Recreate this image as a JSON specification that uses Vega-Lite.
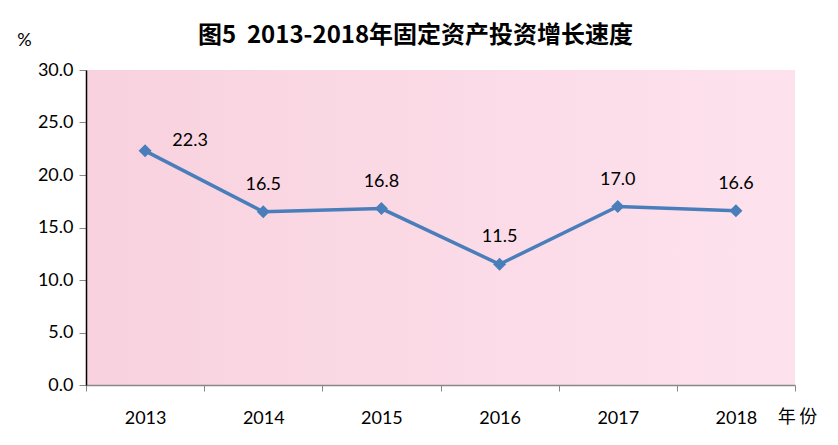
{
  "$schema": "https://vega.github.io/schema/vega-lite/v6.json",
  "width": 709,
  "height": 315,
  "autosize": {"type": "none"},
  "padding": {"left": 86, "top": 70, "right": 43, "bottom": 60},
  "background": "#ffffff",
  "title": {
    "text": "图5\u00a0\u00a02013-2018年固定资产投资增长速度",
    "font": "Noto Sans CJK SC",
    "fontWeight": "bold",
    "fontSize": 24,
    "color": "#000000",
    "anchor": "middle",
    "dx": -25,
    "offset": -17
  },
  "config": {
    "view": {
      "stroke": null,
      "fill": {
        "gradient": "linear",
        "x1": 0, "y1": 0, "x2": 1, "y2": 0,
        "stops": [
          {"offset": 0, "color": "#f8d2de"},
          {"offset": 1, "color": "#fde2ee"}
        ]
      }
    },
    "font": "Lato"
  },
  "data": {
    "values": [
      {"year": "2013", "growth": 22.3},
      {"year": "2014", "growth": 16.5},
      {"year": "2015", "growth": 16.8},
      {"year": "2016", "growth": 11.5},
      {"year": "2017", "growth": 17.0},
      {"year": "2018", "growth": 16.6}
    ]
  },
  "encoding": {
    "x": {
      "field": "year",
      "type": "ordinal",
      "scale": {"paddingInner": 0, "paddingOuter": 0},
      "axis": {
        "title": "年\u2009份",
        "titleFont": "Noto Sans CJK SC",
        "titleFontWeight": "normal",
        "titleFontSize": 18,
        "titleColor": "#000000",
        "titleAngle": 0,
        "titleX": 711,
        "titleY": 32,
        "titleAlign": "center",
        "titleBaseline": "middle",
        "labelAngle": 0,
        "labelFont": "Lato",
        "labelFontSize": 18,
        "labelColor": "#000000",
        "labelPadding": 18,
        "tickBand": "extent",
        "tickColor": "#888888",
        "tickSize": 6,
        "domainColor": "#888888",
        "domainWidth": 1.5,
        "grid": false
      }
    },
    "y": {
      "field": "growth",
      "type": "quantitative",
      "scale": {"domain": [0, 30]},
      "axis": {
        "title": "%",
        "titleFont": "Lato",
        "titleFontWeight": "normal",
        "titleFontSize": 18,
        "titleColor": "#000000",
        "titleAngle": 0,
        "titleX": -62,
        "titleY": -30,
        "titleAlign": "center",
        "titleBaseline": "middle",
        "values": [0, 5, 10, 15, 20, 25, 30],
        "format": ".1f",
        "labelFont": "Lato",
        "labelFontSize": 18,
        "labelColor": "#000000",
        "labelPadding": 6,
        "tickColor": "#888888",
        "tickSize": 7,
        "domainColor": "#000000",
        "domainWidth": 1.5,
        "grid": false
      }
    }
  },
  "layer": [
    {
      "mark": {"type": "line", "color": "#4a7ebb", "strokeWidth": 3.5}
    },
    {
      "mark": {"type": "point", "shape": "diamond", "filled": true, "size": 170, "color": "#4a7ebb", "opacity": 1}
    },
    {
      "transform": [{"filter": "datum.year == '2013'"}],
      "mark": {"type": "text", "dx": 45, "dy": -10, "fontSize": 18, "font": "Lato", "color": "#000000"},
      "encoding": {"text": {"field": "growth", "type": "quantitative", "format": ".1f"}}
    },
    {
      "transform": [{"filter": "datum.year != '2013'"}],
      "mark": {"type": "text", "dy": -27, "fontSize": 18, "font": "Lato", "color": "#000000"},
      "encoding": {"text": {"field": "growth", "type": "quantitative", "format": ".1f"}}
    }
  ]
}
